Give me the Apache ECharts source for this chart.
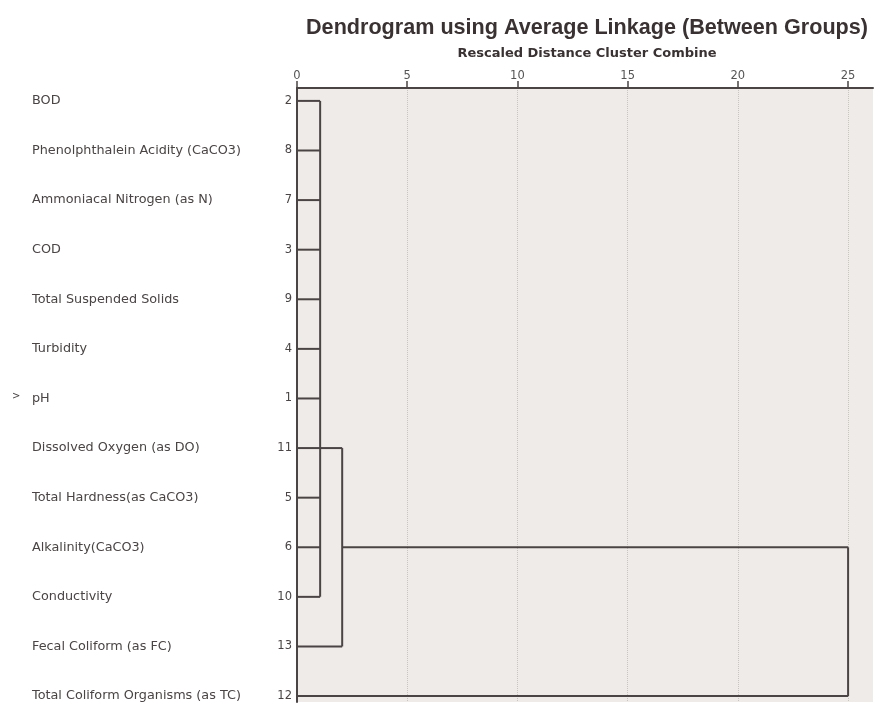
<!DOCTYPE html>
<html>
<head>
<meta charset="utf-8">
<script src="https://cdn.jsdelivr.net/npm/echarts@6/dist/echarts.min.js"></script>
<style>
  html, body { margin: 0; padding: 0; background: #ffffff; }
  #chart { width: 875px; height: 709px; }
</style>
</head>
<body>
<div id="chart"></div>
<script>
// ---- Data ----
const leafIds = [2, 8, 7, 3, 9, 4, 1, 11, 5, 6, 10, 13, 12];
const leafNames = [
  'BOD',
  'Phenolphthalein Acidity (CaCO3)',
  'Ammoniacal Nitrogen (as N)',
  'COD',
  'Total Suspended Solids',
  'Turbidity',
  'pH',
  'Dissolved Oxygen (as DO)',
  'Total Hardness(as CaCO3)',
  'Alkalinity(CaCO3)',
  'Conductivity',
  'Fecal Coliform (as FC)',
  'Total Coliform Organisms (as TC)'
];
// distance at which each leaf joins its first cluster
const leafJoin = [1.05, 1.05, 1.05, 1.05, 1.05, 1.05, 1.05, 1.05, 1.05, 1.05, 1.05, 2.05, 25];
// clusters: combine distance, vertical span (rows), connector row, parent distance
const clusterDist = [1.05, 2.05, 25];
const clusterTop = [0, 7, 9];
const clusterBottom = [10, 11, 12];
const clusterLinkRow = [7, 9, null];
const clusterLinkTo = [2.05, 25, null];
const markedRow = 6; // row with the '>' marker
const xTicks = [0, 5, 10, 15, 20, 25];

// ---- Build segments ----
const segments = [];
leafJoin.forEach((d, i) => segments.push([0, i, d, i]));
clusterDist.forEach((d, k) => {
  segments.push([d, clusterTop[k], d, clusterBottom[k]]);
  if (clusterLinkRow[k] !== null) {
    segments.push([d, clusterLinkRow[k], clusterLinkTo[k], clusterLinkRow[k]]);
  }
});

const lineColor = '#4b4444';
const textColor = '#4a4444';
const font = '"Liberation Sans", Arial, sans-serif';
const wideFont = '"DejaVu Sans", Verdana, sans-serif';

const chart = echarts.init(document.getElementById('chart'), null, { renderer: 'canvas' });
chart.setOption({
  backgroundColor: '#ffffff',
  animation: false,
  title: [
    {
      text: 'Dendrogram using Average Linkage (Between Groups)',
      left: 582, top: 12, textAlign: 'center',
      textStyle: { fontFamily: font, fontWeight: 'bold', fontSize: 21.6, color: '#3a3232' }
    },
    {
      text: 'Rescaled Distance Cluster Combine',
      left: 582, top: 42, textAlign: 'center',
      textStyle: { fontFamily: wideFont, fontWeight: 'bold', fontSize: 13, color: '#3a3232' }
    }
  ],
  grid: {
    left: 297, top: 88, width: 576, height: 614,
    show: true, backgroundColor: '#efebe8', borderWidth: 0
  },
  xAxis: {
    type: 'value', position: 'top', min: 0, max: 26.13, interval: 5,
    axisLine: { show: true, onZero: false, lineStyle: { color: lineColor, width: 2 } },
    axisTick: { show: true, length: 7, customValues: xTicks, lineStyle: { color: lineColor, width: 1.5 } },
    axisLabel: {
      customValues: xTicks, margin: 6, color: '#555', fontSize: 11.5, fontFamily: wideFont
    },
    splitLine: { show: true, lineStyle: { color: '#c9c4c0', type: 'dotted', width: 1 } }
  },
  yAxis: {
    type: 'value', inverse: true, min: -0.26, max: 12.12,
    axisLine: { show: true, onZero: false, lineStyle: { color: lineColor, width: 2 } },
    axisTick: { show: false },
    axisLabel: { show: false },
    splitLine: { show: false }
  },
  series: [
    {
      type: 'custom',
      coordinateSystem: 'cartesian2d',
      data: segments,
      clip: false,
      renderItem: function (params, api) {
        const p1 = api.coord([api.value(0), api.value(1)]);
        const p2 = api.coord([api.value(2), api.value(3)]);
        return {
          type: 'line',
          shape: { x1: p1[0], y1: p1[1], x2: p2[0], y2: p2[1] },
          style: { stroke: lineColor, lineWidth: 2 }
        };
      }
    },
    {
      type: 'custom',
      coordinateSystem: 'cartesian2d',
      data: leafIds.map((id, i) => [0, i]),
      clip: false,
      renderItem: function (params, api) {
        const i = params.dataIndex;
        const p = api.coord([0, api.value(1)]);
        const children = [
          {
            type: 'text',
            style: {
              x: 32, y: p[1], text: leafNames[i], fill: textColor,
              font: '12.8px ' + wideFont, textAlign: 'left', textVerticalAlign: 'middle'
            }
          },
          {
            type: 'text',
            style: {
              x: p[0] - 5, y: p[1], text: String(leafIds[i]), fill: textColor,
              font: '11.5px ' + wideFont, textAlign: 'right', textVerticalAlign: 'middle'
            }
          }
        ];
        if (i === markedRow) {
          children.push({
            type: 'text',
            style: {
              x: 12, y: p[1] - 2, text: '>', fill: textColor,
              font: '10px ' + wideFont, textAlign: 'left', textVerticalAlign: 'middle'
            }
          });
        }
        return { type: 'group', children: children };
      }
    }
  ]
});
</script>
</body>
</html>
